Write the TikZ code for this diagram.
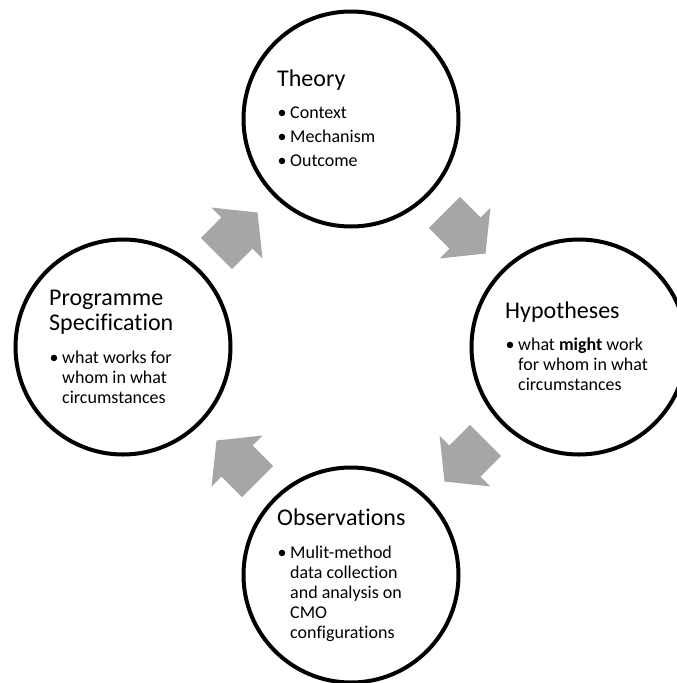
\documentclass[tikz,border=0pt]{standalone}
\usepackage{fontspec}
\setmainfont{Carlito}[Ligatures={NoCommon}]
\usetikzlibrary{calc}
\definecolor{arrowgray}{RGB}{166,166,166}
\begin{document}
\begin{tikzpicture}[x=1pt,y=-1pt,
  stage/.style={circle, draw=black, line width=4pt, minimum size=215pt, inner sep=0pt},
  ttl/.style={anchor=base west, inner sep=0pt, font=\fontsize{24}{29}\selectfont},
  txt/.style={anchor=base west, inner sep=0pt, font=\fontsize{18}{20}\selectfont},
  dot/.style={anchor=base, inner sep=0pt, font=\fontsize{18}{20}\selectfont},
  cyclearrow/.pic={\fill[arrowgray] (-29,22) -- (0,22) -- (0,36) -- (29,0) -- (0,-36) -- (0,-22) -- (-29,-22) -- cycle;}
]
\useasboundingbox (0,0) rectangle (677,683);

% stages
\node[stage] (theory) at (351,119) {};
\node[stage] (hyp) at (579,347) {};
\node[stage] (obs) at (351,575) {};
\node[stage] (prog) at (123,347) {};

% cycle arrows
\coordinate (a1) at ($(prog)!0.5!(theory)$);
\coordinate (a2) at ($(theory)!0.5!(hyp)$);
\coordinate (a3) at ($(hyp)!0.5!(obs)$);
\coordinate (a4) at ($(obs)!0.5!(prog)$);
\pic[rotate=45] at (a1) {cyclearrow};
\pic[rotate=-45] at (a2) {cyclearrow};
\pic[rotate=-135] at (a3) {cyclearrow};
\pic[rotate=135] at (a4) {cyclearrow};

% Theory
\node[ttl] (thT) at (277,86) {Theory};
\node[dot] (thD1) at (282,118) {•};
\node[txt] (thL1) at (290,118) {Context};
\node[dot] (thD2) at (282,142) {•};
\node[txt] (thL2) at (290,142) {Mechanism};
\node[dot] (thD3) at (282,166) {•};
\node[txt] (thL3) at (290,166) {Outcome};

% Hypotheses
\node[ttl] (hyT) at (505,318) {Hypotheses};
\node[dot] (hyD1) at (510,350) {•};
\node[txt] (hyL1) at (518,350) {what \textbf{might} work};
\node[txt] (hyL2) at (518,370) {for whom in what};
\node[txt] (hyL3) at (518,390) {circumstances};

% Observations
\node[ttl] (obT) at (277,525) {Observations};
\node[dot] (obD1) at (282,558) {•};
\node[txt] (obL1) at (290,558) {Mulit-method};
\node[txt] (obL2) at (290,578) {data collection};
\node[txt] (obL3) at (290,598) {and analysis on};
\node[txt] (obL4) at (290,618) {CMO};
\node[txt] (obL5) at (290,638) {configurations};

% Programme Specification
\node[ttl] (prT1) at (49,305) {Programme};
\node[ttl] (prT2) at (49,330) {Specification};
\node[dot] (prD1) at (54,363) {•};
\node[txt] (prL1) at (62,363) {what works for};
\node[txt] (prL2) at (62,383) {whom in what};
\node[txt] (prL3) at (62,403) {circumstances};
\end{tikzpicture}
\end{document}
